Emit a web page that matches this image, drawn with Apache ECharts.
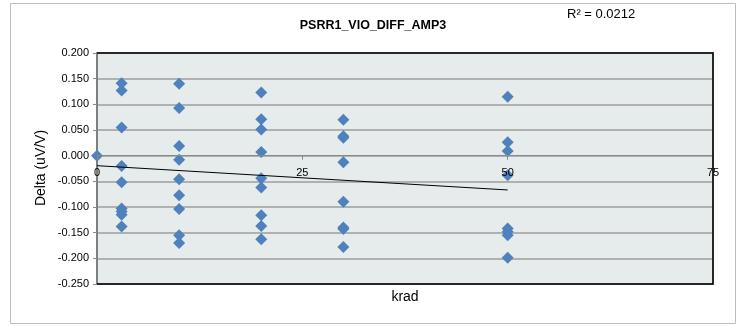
<!DOCTYPE html>
<html>
<head>
<meta charset="utf-8">
<script src="https://cdn.jsdelivr.net/npm/echarts@6/dist/echarts.min.js"></script>
<style>
html,body{margin:0;padding:0;background:#fff;}
#chart{width:742px;height:326px;}
</style>
</head>
<body>
<div id="chart"></div>
<script>
// ---- data ----
const chartTitle = 'PSRR1_VIO_DIFF_AMP3';
const rSquaredText = 'R\u00b2 = 0.0212';
const xAxisTitle = 'krad';
const yAxisTitle = 'Delta (uV/V)';

const kradLevels = [0, 3, 10, 20, 30, 50];
const delta0  = [0.000];
const delta3  = [0.141, 0.127, 0.055, -0.020, -0.052, -0.103, -0.109, -0.115, -0.138];
const delta10 = [0.140, 0.093, 0.019, -0.008, -0.046, -0.077, -0.104, -0.155, -0.170];
const delta20 = [0.123, 0.071, 0.051, 0.007, -0.044, -0.062, -0.116, -0.137, -0.163];
const delta30 = [0.070, 0.038, 0.035, -0.013, -0.090, -0.140, -0.143, -0.178];
const delta50 = [0.115, 0.026, 0.009, -0.038, -0.142, -0.148, -0.155, -0.199];

const xTicks = { min: 0, max: 75, interval: 25 };
const yTicks = { min: -0.25, max: 0.2, interval: 0.05 };

// ---- build scatter points ----
const groups = [delta0, delta3, delta10, delta20, delta30, delta50];
const points = [];
groups.forEach((arr, i) => arr.forEach(v => points.push([kradLevels[i], v])));

// least-squares linear trend line
const n = points.length;
let sx = 0, sy = 0, sxx = 0, sxy = 0;
points.forEach(([x, y]) => { sx += x; sy += y; sxx += x * x; sxy += x * y; });
const slope = (n * sxy - sx * sy) / (n * sxx - sx * sx);
const intercept = (sy - slope * sx) / n;
const xMinData = Math.min(...kradLevels), xMaxData = Math.max(...kradLevels);
const trend = [[xMinData, intercept + slope * xMinData], [xMaxData, intercept + slope * xMaxData]];

// layout
const G = { left: 97, right: 29, top: 53, bottom: 42 };
const W = 742, H = 326;
const plotH = H - G.top - G.bottom;
const plotW = W - G.left - G.right;
// put the x axis on the y = 0 line
const xAxisOffset = -((0 - yTicks.min) / (yTicks.max - yTicks.min)) * plotH;

const chart = echarts.init(document.getElementById('chart'), null, { renderer: 'canvas' });
const FONT = 'Liberation Sans, Arial, sans-serif';

chart.setOption({
  animation: false,
  backgroundColor: '#ffffff',
  grid: {
    left: G.left, right: G.right, top: G.top, bottom: G.bottom,
    show: true,
    backgroundColor: '#E6EBEB',
    borderColor: '#8a8a8a',
    borderWidth: 1.5
  },
  xAxis: {
    type: 'value',
    position: 'bottom',
    offset: xAxisOffset,
    min: xTicks.min, max: xTicks.max, interval: xTicks.interval,
    z: 3,
    axisLine: { show: true, onZero: false, lineStyle: { color: '#8a8a8a', width: 1 } },
    axisTick: { show: true, length: 4, lineStyle: { color: '#8a8a8a' } },
    axisLabel: { color: '#000', fontSize: 11, fontFamily: FONT, margin: 12 },
    splitLine: { show: false }
  },
  yAxis: {
    type: 'value',
    min: yTicks.min, max: yTicks.max, interval: yTicks.interval,
    axisLine: { show: true, onZero: false, lineStyle: { color: '#7f7f7f', width: 2 } },
    axisTick: { show: true, length: 4, lineStyle: { color: '#8a8a8a' } },
    axisLabel: { color: '#000', fontSize: 11, fontFamily: FONT, margin: 8,
      formatter: v => v.toFixed(3) },
    splitLine: { show: true, lineStyle: { color: '#9c9c9c', width: 1.5 } }
  },
  series: [
    {
      type: 'scatter',
      data: points,
      symbol: 'diamond',
      symbolSize: 12,
      clip: false,
      itemStyle: { color: '#4F81BD', opacity: 1 },
      z: 2
    },
    {
      type: 'line',
      data: trend,
      showSymbol: false,
      symbol: 'none',
      lineStyle: { color: '#000', width: 1 },
      z: 4
    }
  ],
  graphic: [
    { type: 'rect', shape: { x: 10.5, y: 3.5, width: 725, height: 320 },
      style: { fill: 'none', stroke: '#bdbdbd', lineWidth: 1 }, silent: true, z: -10 },
    { type: 'polyline', silent: true, z: 50,
      shape: { points: [[G.left, G.top], [G.left + plotW, G.top], [G.left + plotW, G.top + plotH], [G.left, G.top + plotH]] },
      style: { fill: 'none', stroke: '#000', lineWidth: 1.5 } },
    { type: 'text', x: 373, y: 25.5,
      style: { text: chartTitle, textAlign: 'center', textVerticalAlign: 'middle',
        fontSize: 12.5, fontWeight: 'bold', fontFamily: FONT, fill: '#000' } },
    { type: 'text', x: 567, y: 14.5,
      style: { text: rSquaredText, textAlign: 'left', textVerticalAlign: 'middle',
        fontSize: 13, fontFamily: FONT, fill: '#000' } },
    { type: 'text', x: 405, y: 297,
      style: { text: xAxisTitle, textAlign: 'center', textVerticalAlign: 'middle',
        fontSize: 14, fontFamily: FONT, fill: '#000' } },
    { type: 'text', x: 41, y: 168, rotation: Math.PI / 2,
      style: { text: yAxisTitle, textAlign: 'center', textVerticalAlign: 'middle',
        fontSize: 14, fontFamily: FONT, fill: '#000' } }
  ]
});
</script>
</body>
</html>
